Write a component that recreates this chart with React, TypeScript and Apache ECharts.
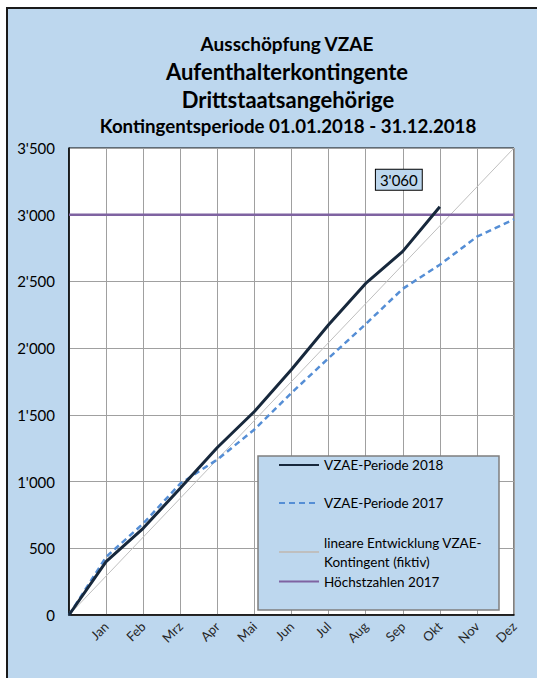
import React, { useEffect, useRef } from "react";
import * as echarts from "echarts";

const months = ["Jan", "Feb", "Mrz", "Apr", "Mai", "Jun", "Jul", "Aug", "Sep", "Okt", "Nov", "Dez"];
// index 0 = start of period, 1..12 = end of month
const periode2018 = [0, 400, 650, 950, 1255, 1525, 1840, 2175, 2485, 2725, 3060];
const periode2017 = [0, 435, 685, 985, 1165, 1390, 1665, 1925, 2180, 2445, 2625, 2835, 2965];
const linearX = [0, 12];
const linearY = [0, 3500];
const hoechstX = [0, 12];
const hoechstY = [3000, 3000];
const yTicks = { min: 0, max: 3500, interval: 500 };

const titleLines = [
  "Ausschöpfung VZAE",
  "Aufenthalterkontingente",
  "Drittstaatsangehörige",
  "Kontingentsperiode 01.01.2018 - 31.12.2018",
];

const FONT = "Lato, 'Noto Sans', sans-serif";

function fmt(v: number): string {
  if (v >= 1000) {
    const t = Math.floor(v / 1000);
    const r = String(Math.round(v % 1000)).padStart(3, "0");
    return t + "'" + r;
  }
  return String(v);
}

export default function App() {
  const ref = useRef<HTMLDivElement>(null);

  useEffect(() => {
    if (!ref.current) return;
    const chart = echarts.init(ref.current, null, { renderer: "svg" });
    const last = periode2018.length - 1;
    const option: any = {
      animation: false,
      graphic: [
        {
          type: "text",
          x: 287,
          y: 43,
          style: { text: titleLines[0], font: `bold 19px ${FONT}`, fill: "#000", align: "center", verticalAlign: "middle" },
        },
        {
          type: "text",
          x: 287,
          y: 71,
          style: { text: titleLines[1], font: `bold 22px ${FONT}`, fill: "#000", align: "center", verticalAlign: "middle" },
        },
        {
          type: "text",
          x: 288,
          y: 99,
          style: { text: titleLines[2], font: `bold 22px ${FONT}`, fill: "#000", align: "center", verticalAlign: "middle" },
        },
        {
          type: "text",
          x: 288,
          y: 126,
          style: { text: titleLines[3], font: `bold 18.7px ${FONT}`, fill: "#000", align: "center", verticalAlign: "middle" },
        },
        {
          type: "rect",
          z: 3,
          shape: { x: 258, y: 456, width: 241, height: 154 },
          style: { fill: "#BDD7EE", stroke: "#7F7F7F", lineWidth: 1.5 },
        },
      ],
      legend: [
        {
          z: 10,
          left: 278,
          top: 458,
          orient: "vertical",
          padding: 0,
          itemWidth: 40,
          itemHeight: 14,
          itemGap: 24,
          selectedMode: false,
          itemStyle: { opacity: 0, borderWidth: 0 },
          textStyle: { fontSize: 13.5, fontFamily: FONT, color: "#000" },
          data: ["VZAE-Periode 2018", "VZAE-Periode 2017"],
        },
        {
          z: 10,
          left: 278,
          top: 533,
          orient: "vertical",
          padding: 0,
          itemWidth: 40,
          itemHeight: 14,
          itemGap: 1,
          selectedMode: false,
          itemStyle: { opacity: 0, borderWidth: 0 },
          textStyle: { fontSize: 13.5, lineHeight: 19, fontFamily: FONT, color: "#000" },
          data: ["lineare Entwicklung VZAE-\nKontingent (fiktiv)", "Höchstzahlen 2017"],
        },
      ],
      grid: {
        left: 69,
        top: 148,
        right: 23,
        bottom: 63,
        show: true,
        backgroundColor: "#fff",
        borderColor: "#000",
        borderWidth: 1,
      },
      xAxis: {
        type: "value",
        min: 0,
        max: 12,
        interval: 1,
        axisLine: { show: true, lineStyle: { color: "#000", width: 1.5 } },
        axisTick: { show: false },
        splitLine: { show: true, lineStyle: { color: "#A0A0A0", width: 1 } },
        axisLabel: {
          rotate: 45,
          margin: 9,
          fontSize: 13,
          fontFamily: FONT,
          color: "#262626",
          formatter: (v: number) => (v >= 1 && v <= 12 ? months[v - 1] : ""),
        },
      },
      yAxis: {
        type: "value",
        min: yTicks.min,
        max: yTicks.max,
        interval: yTicks.interval,
        axisLine: { show: true, lineStyle: { color: "#000", width: 1.5 } },
        axisTick: { show: false },
        splitLine: { show: true, lineStyle: { color: "#A0A0A0", width: 1 } },
        axisLabel: {
          margin: 14,
          fontSize: 15,
          fontFamily: FONT,
          color: "#000",
          formatter: (v: number) => fmt(v),
        },
      },
      series: [
        {
          name: "lineare Entwicklung VZAE-\nKontingent (fiktiv)",
          type: "line",
          symbol: "none",
          z: 2,
          lineStyle: { color: "#BFBFBF", width: 1 },
          itemStyle: { color: "#BFBFBF" },
          data: linearX.map((x, i) => [x, linearY[i]]),
        },
        {
          name: "Höchstzahlen 2017",
          type: "line",
          symbol: "none",
          z: 2,
          lineStyle: { color: "#7F63A1", width: 2.5 },
          itemStyle: { color: "#7F63A1" },
          data: hoechstX.map((x, i) => [x, hoechstY[i]]),
        },
        {
          name: "VZAE-Periode 2017",
          type: "line",
          symbol: "none",
          z: 3,
          lineStyle: { color: "#558ED5", width: 2.5, type: [6, 4] },
          itemStyle: { color: "#558ED5" },
          data: periode2017.map((v, i) => [i, v]),
        },
        {
          name: "VZAE-Periode 2018",
          type: "line",
          symbol: "none",
          z: 4,
          lineStyle: { color: "#17283C", width: 3 },
          itemStyle: { color: "#17283C" },
          data: periode2018.map((v, i) => [i, v]),
          markPoint: {
            symbol: "circle",
            symbolSize: 1,
            itemStyle: { color: "rgba(0,0,0,0)" },
            label: {
              show: true,
              position: "inside",
              offset: [-41, -27],
              formatter: () => fmt(periode2018[last]),
              backgroundColor: "#BDD7EE",
              borderColor: "#000",
              borderWidth: 1,
              padding: [3, 4, 2, 4],
              fontSize: 15,
              fontFamily: FONT,
              color: "#000",
            },
            data: [{ coord: [last, periode2018[last]] }],
          },
        },
      ],
    };
    chart.setOption(option);
    return () => chart.dispose();
  }, []);

  return (
    <div style={{ position: "fixed", left: 0, top: 0, width: 537, height: 678, background: "#fff", overflow: "hidden" }}>
      <div
        style={{
          position: "absolute",
          left: 6,
          top: 7,
          width: 700,
          height: 800,
          background: "#BDD7EE",
          borderLeft: "2px solid #1a1a1a",
          borderTop: "2px solid #1a1a1a",
        }}
      />
      <div ref={ref} style={{ position: "absolute", left: 0, top: 0, width: 537, height: 678 }} />
    </div>
  );
}
